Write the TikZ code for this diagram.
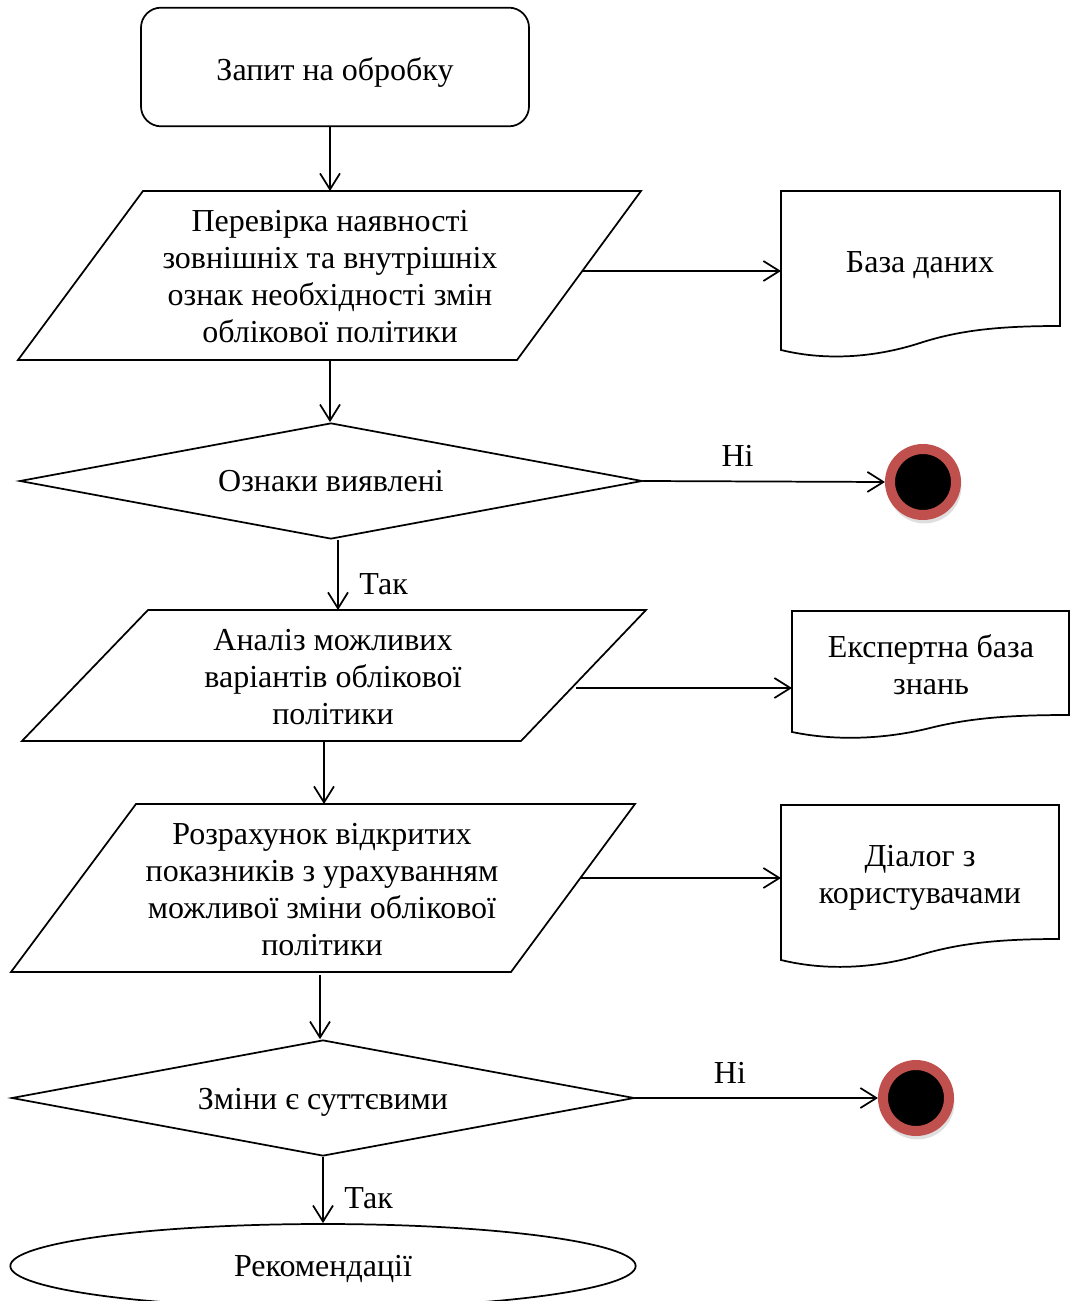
\documentclass[tikz,border=0pt]{standalone}
\usepackage{fontspec}
\setmainfont{Liberation Serif}
\usetikzlibrary{arrows.meta,shapes.geometric,shadows}
\definecolor{ringred}{RGB}{192,80,77}

\begin{document}
\begin{tikzpicture}[x=0.75pt,y=-0.75pt,line width=1.3pt,
  >={Straight Barb[length=12pt,width=15pt]},
  every node/.style={font=\fontsize{24}{27.75}\selectfont,align=center},
  startbox/.style={draw,rectangle,rounded corners=15pt,minimum width=291pt,minimum height=89pt},
  decision/.style={draw,diamond,aspect=5,inner sep=0pt,minimum width=467pt,minimum height=87pt},
  result/.style={draw,ellipse,inner sep=0pt,minimum width=469pt,minimum height=63pt},
  stopdot/.style={circle,fill=black,draw=ringred,line width=7.5pt,minimum size=49.5pt,
    drop shadow={opacity=0.25,shadow scale=1.12,shadow xshift=1pt,shadow yshift=-3pt}}]
  \useasboundingbox (0,0) rectangle (1070,1301);
  % start
  \node[startbox,text height=22pt,text depth=2pt] (start) at (335,67) {Запит на обробку};
  % first check (parallelogram)
  \draw (143,191) -- (641,191) -- (517,360) -- (18,360) -- cycle;
  \node (check) at (330,277) {Перевірка наявності\\зовнішніх та внутрішніх\\ознак необхідності змін\\облікової політики};
  \coordinate (checkN) at (330,191);
  \coordinate (checkS) at (330,360);
  \coordinate (checkE) at (583,271);
  % data base (document)
  \draw (781,191) -- (1060,191) -- (1060,326) .. controls (1000,326) and (960,330) .. (920,343)
    .. controls (880,356) and (830,362) .. (781,350) -- cycle;
  \node (db) at (920,265) {База даних};
  \coordinate (dbW) at (781,271);
  % first decision
  \node[decision] (found) at (331,481) {Ознаки виявлені};
  \node[stopdot] (stop1) at (923,482) {};
  % analysis (parallelogram)
  \draw (148,610) -- (646,610) -- (521,741) -- (22,741) -- cycle;
  \node (analysis) at (333,677) {Аналіз можливих\\варіантів облікової\\політики};
  \coordinate (analysisN) at (338,610);
  \coordinate (analysisS) at (324,741);
  \coordinate (analysisE) at (576,688);
  % expert knowledge base (document)
  \draw (792,611) -- (1069,611) -- (1069,715) .. controls (1010,715) and (970,718) .. (930,728)
    .. controls (890,738) and (840,742) .. (792,732) -- cycle;
  \node (kb) at (931,665) {Експертна база\\знань};
  \coordinate (kbW) at (792,688);
  % calculation (parallelogram)
  \draw (136,804) -- (635,804) -- (511,972) -- (11,972) -- cycle;
  \node (calc) at (322,890) {Розрахунок відкритих\\показників з урахуванням\\можливої зміни облікової\\політики};
  \coordinate (calcN) at (324,804);
  \coordinate (calcS) at (320,975);
  \coordinate (calcE) at (581,878);
  % dialog (document)
  \draw (781,805) -- (1059,805) -- (1059,939) .. controls (1000,939) and (960,943) .. (920,955)
    .. controls (880,967) and (830,972) .. (781,960) -- cycle;
  \node (dialog) at (920,878) {Діалог з\\користувачами};
  \coordinate (dialogW) at (781,878);
  % second decision
  \node[decision,text height=20pt,text depth=3pt] (essential) at (323,1098) {Зміни є суттєвими};
  \node[stopdot] (stop2) at (916,1098) {};
  % recommendations
  \node[result,text height=19pt,text depth=3.5pt] (advice) at (323,1266) {Рекомендації};
  % connectors
  \draw[->] (start.south -| checkN) -- (checkN);
  \draw[->] (checkE) -- (dbW);
  \draw[->] (checkS) -- (found.north -| checkS);
  \draw[->] (found.east) -- (stop1.west) node[pos=0.39,above=7pt] {Ні};
  \draw[->] (found.south -| analysisN) -- (analysisN) node[pos=0.63,right=12pt] {Так};
  \draw[->] (analysisE) -- (kbW);
  \draw[->] (analysisS) -- (calcN);
  \draw[->] (calcE) -- (dialogW);
  \draw[->] (calcS) -- (essential.north -| calcS);
  \draw[->] (essential.east) -- (stop2.west) node[pos=0.39,above=7pt] {Ні};
  \draw[->] (essential.south -| advice.north) -- (advice.north) node[pos=0.63,right=12pt] {Так};
\end{tikzpicture}
\end{document}
